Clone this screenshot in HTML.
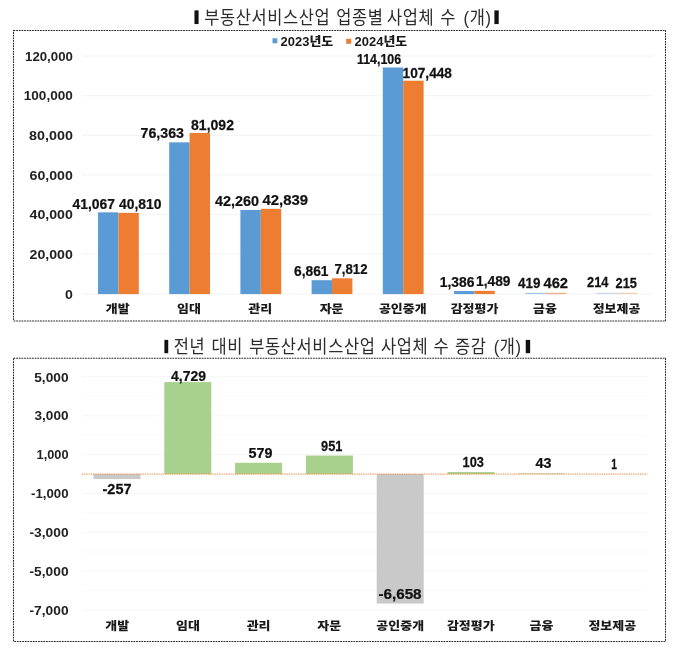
<!DOCTYPE html>
<html lang="ko">
<head>
<meta charset="utf-8">
<title>부동산서비스산업 업종별 사업체 수</title>
<style>
html,body{margin:0;padding:0;background:#fff;}
body{width:679px;height:658px;overflow:hidden;font-family:'Liberation Sans','Noto Sans CJK KR',sans-serif;}
svg{display:block;}
text{font-family:'Liberation Sans','Noto Sans CJK KR',sans-serif;fill:#1a1a1a;}
.tt{font-size:16.8px;font-weight:400;fill:#2b2b2b;letter-spacing:0.65px;}
.ax{font-size:13.4px;font-weight:700;fill:#222;}
.ct{font-size:12.6px;font-weight:900;fill:#1a1a1a;}
.dl{font-size:15.5px;font-weight:700;fill:#111;stroke:#111;stroke-width:0.25px;}
.lg{font-size:12.4px;font-weight:900;fill:#1a1a1a;}
.vb{font-family:'DejaVu Sans','Liberation Sans',sans-serif;fill:#111;}
</style>
</head>
<body>
<svg width="679" height="658" viewBox="0 0 679 658">
<rect x="0" y="0" width="679" height="658" fill="#ffffff"/>
<rect x="13.5" y="30.4" width="652.0" height="290.5" fill="none" stroke="#2a2a2a" stroke-width="1.05" stroke-dasharray="1.8 0.85"/>
<rect x="13.5" y="358.2" width="652.0" height="283.2" fill="none" stroke="#2a2a2a" stroke-width="1.05" stroke-dasharray="1.8 0.85"/>
<text class="vb" transform="translate(196.40 20.81) scale(1.820 1)" font-size="13.74" text-anchor="middle">❙</text>
<text class="tt" transform="translate(204.20 24.30) scale(0.9800 1.0500)"><tspan x="0.00">부동산서비스산업</tspan> <tspan x="134.80">업종별</tspan> <tspan x="186.43">사업체</tspan> <tspan x="240.82">수</tspan> <tspan x="264.69">(개)</tspan></text>
<text class="vb" transform="translate(496.50 20.81) scale(1.911 1)" font-size="13.74" text-anchor="middle">❙</text>
<text class="vb" transform="translate(165.85 349.71) scale(1.734 1)" font-size="13.33" text-anchor="middle">❙</text>
<text class="tt" transform="translate(173.80 353.30) scale(0.9800 1.0500)"><tspan x="0.00">전년</tspan> <tspan x="38.57">대비</tspan> <tspan x="77.04">부동산서비스산업</tspan> <tspan x="211.43">사업체</tspan> <tspan x="265.10">수</tspan> <tspan x="286.94">증감</tspan> <tspan x="326.43">(개)</tspan></text>
<text class="vb" transform="translate(527.45 349.71) scale(2.016 1)" font-size="13.33" text-anchor="middle">❙</text>
<line x1="82.00" y1="293.80" x2="653.00" y2="293.80" stroke="#f5f5f5" stroke-width="1.2"/>
<text class="ax" transform="translate(68.95 298.50) scale(1.0595 1.0000)" text-anchor="middle">0</text>
<line x1="82.00" y1="254.18" x2="653.00" y2="254.18" stroke="#f5f5f5" stroke-width="1.2"/>
<text class="ax" transform="translate(51.20 258.88) scale(1.0590 1.0000)" text-anchor="middle">20,000</text>
<line x1="82.00" y1="214.56" x2="653.00" y2="214.56" stroke="#f5f5f5" stroke-width="1.2"/>
<text class="ax" transform="translate(51.20 219.26) scale(1.0590 1.0000)" text-anchor="middle">40,000</text>
<line x1="82.00" y1="174.94" x2="653.00" y2="174.94" stroke="#f5f5f5" stroke-width="1.2"/>
<text class="ax" transform="translate(51.20 179.64) scale(1.0590 1.0000)" text-anchor="middle">60,000</text>
<line x1="82.00" y1="135.32" x2="653.00" y2="135.32" stroke="#f5f5f5" stroke-width="1.2"/>
<text class="ax" transform="translate(50.95 140.02) scale(1.0714 1.0000)" text-anchor="middle">80,000</text>
<line x1="82.00" y1="95.70" x2="653.00" y2="95.70" stroke="#f5f5f5" stroke-width="1.2"/>
<text class="ax" transform="translate(48.30 100.40) scale(1.0150 1.0000)" text-anchor="middle">100,000</text>
<line x1="82.00" y1="56.08" x2="653.00" y2="56.08" stroke="#f5f5f5" stroke-width="1.2"/>
<text class="ax" transform="translate(48.95 60.78) scale(0.9876 1.0000)" text-anchor="middle">120,000</text>
<rect x="98.00" y="212.34" width="20.40" height="81.76" fill="#5b9bd5"/>
<rect x="118.40" y="212.85" width="20.40" height="81.25" fill="#ed7d31"/>
<rect x="169.20" y="142.33" width="20.40" height="151.77" fill="#5b9bd5"/>
<rect x="189.60" y="132.95" width="20.40" height="161.15" fill="#ed7d31"/>
<rect x="240.40" y="209.98" width="20.40" height="84.12" fill="#5b9bd5"/>
<rect x="260.80" y="208.83" width="20.40" height="85.27" fill="#ed7d31"/>
<rect x="311.60" y="280.19" width="20.40" height="13.91" fill="#5b9bd5"/>
<rect x="332.00" y="278.30" width="20.40" height="15.80" fill="#ed7d31"/>
<rect x="382.80" y="67.47" width="20.40" height="226.63" fill="#5b9bd5"/>
<rect x="403.20" y="80.68" width="20.40" height="213.42" fill="#ed7d31"/>
<rect x="454.00" y="291.05" width="20.40" height="3.05" fill="#5b9bd5"/>
<rect x="474.40" y="290.85" width="20.40" height="3.25" fill="#ed7d31"/>
<rect x="525.20" y="292.80" width="20.40" height="1.30" fill="#5b9bd5" opacity="0.55"/>
<rect x="545.60" y="292.80" width="20.40" height="1.30" fill="#ed7d31" opacity="0.61"/>
<rect x="596.40" y="292.80" width="20.40" height="1.30" fill="#5b9bd5" opacity="0.35"/>
<rect x="616.80" y="292.80" width="20.40" height="1.30" fill="#ed7d31" opacity="0.35"/>
<text class="ct" transform="translate(117.80 313.10) scale(1.0300 0.9200)" text-anchor="middle">개발</text>
<text class="ct" transform="translate(189.00 313.10) scale(1.0300 0.9200)" text-anchor="middle">임대</text>
<text class="ct" transform="translate(260.20 313.10) scale(1.0300 0.9200)" text-anchor="middle">관리</text>
<text class="ct" transform="translate(331.60 313.10) scale(1.0300 0.9200)" text-anchor="middle">자문</text>
<text class="ct" transform="translate(402.80 313.10) scale(1.0300 0.9200)" text-anchor="middle">공인중개</text>
<text class="ct" transform="translate(474.50 313.10) scale(1.0300 0.9200)" text-anchor="middle">감정평가</text>
<text class="ct" transform="translate(545.00 313.10) scale(1.0300 0.9200)" text-anchor="middle">금융</text>
<text class="ct" transform="translate(616.50 313.10) scale(1.0300 0.9200)" text-anchor="middle">정보제공</text>
<text class="dl" transform="translate(93.75 208.80) scale(0.8961 1.0000)" text-anchor="middle">41,067</text>
<text class="dl" transform="translate(140.25 208.80) scale(0.8961 1.0000)" text-anchor="middle">40,810</text>
<text class="dl" transform="translate(162.25 137.50) scale(0.9176 1.0000)" text-anchor="middle">76,363</text>
<text class="dl" transform="translate(212.50 130.00) scale(0.9069 1.0000)" text-anchor="middle">81,092</text>
<text class="dl" transform="translate(237.00 206.30) scale(0.9284 1.0000)" text-anchor="middle">42,260</text>
<text class="dl" transform="translate(285.25 204.50) scale(0.9608 1.0000)" text-anchor="middle">42,839</text>
<text class="dl" transform="translate(311.25 275.50) scale(0.8887 1.0000)" text-anchor="middle">6,861</text>
<text class="dl" transform="translate(351.00 273.50) scale(0.8489 1.0000)" text-anchor="middle">7,812</text>
<text class="dl" transform="translate(379.00 64.00) scale(0.8010 1.0000)" text-anchor="middle">114,106</text>
<text class="dl" transform="translate(427.25 78.00) scale(0.8829 1.0000)" text-anchor="middle">107,448</text>
<text class="dl" transform="translate(457.10 287.30) scale(0.8966 1.0000)" text-anchor="middle">1,386</text>
<text class="dl" transform="translate(493.25 285.50) scale(0.8887 1.0000)" text-anchor="middle">1,489</text>
<text class="dl" transform="translate(529.25 287.50) scale(0.8680 1.0000)" text-anchor="middle">419</text>
<text class="dl" transform="translate(555.75 287.50) scale(0.9488 1.0000)" text-anchor="middle">462</text>
<text class="dl" transform="translate(597.75 286.50) scale(0.8276 1.0000)" text-anchor="middle">214</text>
<text class="dl" transform="translate(626.25 288.00) scale(0.8276 1.0000)" text-anchor="middle">215</text>
<rect x="272.50" y="38.30" width="4.80" height="5.00" fill="#5b9bd5"/>
<text class="lg" transform="translate(280.60 45.80) scale(1.0450 1.0000)" text-anchor="start">2023년도</text>
<rect x="346.20" y="38.80" width="5.00" height="5.00" fill="#ed7d31"/>
<text class="lg" transform="translate(354.60 45.80) scale(1.0450 1.0000)" text-anchor="start">2024년도</text>
<line x1="82.00" y1="376.80" x2="647.50" y2="376.80" stroke="#f5f5f5" stroke-width="1"/>
<text class="ax" transform="translate(51.40 381.50) scale(1.0249 1.0000)" text-anchor="middle">5,000</text>
<line x1="82.00" y1="415.70" x2="647.50" y2="415.70" stroke="#f5f5f5" stroke-width="1"/>
<text class="ax" transform="translate(51.55 420.40) scale(1.0157 1.0000)" text-anchor="middle">3,000</text>
<line x1="82.00" y1="454.60" x2="647.50" y2="454.60" stroke="#f5f5f5" stroke-width="1"/>
<text class="ax" transform="translate(52.55 459.30) scale(0.9543 1.0000)" text-anchor="middle">1,000</text>
<line x1="82.00" y1="493.50" x2="647.50" y2="493.50" stroke="#f5f5f5" stroke-width="1"/>
<text class="ax" transform="translate(49.80 498.20) scale(0.9878 1.0000)" text-anchor="middle">-1,000</text>
<line x1="82.00" y1="532.40" x2="647.50" y2="532.40" stroke="#f5f5f5" stroke-width="1"/>
<text class="ax" transform="translate(49.05 537.10) scale(1.0283 1.0000)" text-anchor="middle">-3,000</text>
<line x1="82.00" y1="571.30" x2="647.50" y2="571.30" stroke="#f5f5f5" stroke-width="1"/>
<text class="ax" transform="translate(49.05 576.00) scale(1.0283 1.0000)" text-anchor="middle">-5,000</text>
<line x1="82.00" y1="610.20" x2="647.50" y2="610.20" stroke="#f5f5f5" stroke-width="1"/>
<text class="ax" transform="translate(49.05 614.90) scale(1.0283 1.0000)" text-anchor="middle">-7,000</text>
<line x1="82.00" y1="396.25" x2="647.50" y2="396.25" stroke="#fafafa" stroke-width="1"/>
<line x1="82.00" y1="435.15" x2="647.50" y2="435.15" stroke="#fafafa" stroke-width="1"/>
<line x1="82.00" y1="512.95" x2="647.50" y2="512.95" stroke="#fafafa" stroke-width="1"/>
<line x1="82.00" y1="551.85" x2="647.50" y2="551.85" stroke="#fafafa" stroke-width="1"/>
<line x1="82.00" y1="590.75" x2="647.50" y2="590.75" stroke="#fafafa" stroke-width="1"/>
<rect x="93.50" y="474.05" width="47.00" height="5.00" fill="#c9c9c9"/>
<rect x="164.30" y="382.07" width="47.00" height="91.98" fill="#a9d18e"/>
<rect x="235.10" y="462.79" width="47.00" height="11.26" fill="#a9d18e"/>
<rect x="305.90" y="455.55" width="47.00" height="18.50" fill="#a9d18e"/>
<rect x="376.70" y="474.05" width="47.00" height="129.50" fill="#c9c9c9"/>
<rect x="447.50" y="472.05" width="47.00" height="2.00" fill="#a9d18e"/>
<rect x="518.30" y="473.05" width="47.00" height="1.00" fill="#a9d18e" opacity="0.56"/>
<line x1="82.00" y1="474.05" x2="647.50" y2="474.05" stroke="#ee8a45" stroke-width="1.2" stroke-dasharray="0.9 0.9"/>
<text class="ct" transform="translate(117.30 629.60) scale(1.0300 0.9200)" text-anchor="middle">개발</text>
<text class="ct" transform="translate(188.00 629.60) scale(1.0300 0.9200)" text-anchor="middle">임대</text>
<text class="ct" transform="translate(258.60 629.60) scale(1.0300 0.9200)" text-anchor="middle">관리</text>
<text class="ct" transform="translate(329.30 629.60) scale(1.0300 0.9200)" text-anchor="middle">자문</text>
<text class="ct" transform="translate(400.20 629.60) scale(1.0300 0.9200)" text-anchor="middle">공인중개</text>
<text class="ct" transform="translate(470.80 629.60) scale(1.0300 0.9200)" text-anchor="middle">감정평가</text>
<text class="ct" transform="translate(541.50 629.60) scale(1.0300 0.9200)" text-anchor="middle">금융</text>
<text class="ct" transform="translate(612.30 629.60) scale(1.0300 0.9200)" text-anchor="middle">정보제공</text>
<text class="dl" transform="translate(117.00 493.50) scale(0.9355 1.0000)" text-anchor="middle">-257</text>
<text class="dl" transform="translate(188.50 381.00) scale(0.9020 1.0000)" text-anchor="middle">4,729</text>
<text class="dl" transform="translate(260.50 457.50) scale(0.9286 1.0000)" text-anchor="middle">579</text>
<text class="dl" transform="translate(331.75 450.50) scale(0.8276 1.0000)" text-anchor="middle">951</text>
<text class="dl" transform="translate(400.00 599.00) scale(0.9800 1.0000)" text-anchor="middle">-6,658</text>
<text class="dl" transform="translate(473.25 467.00) scale(0.8276 1.0000)" text-anchor="middle">103</text>
<text class="dl" transform="translate(543.50 468.00) scale(0.9287 1.0000)" text-anchor="middle">43</text>
<text class="dl" transform="translate(614.00 468.50) scale(0.6637 1.0000)" text-anchor="middle">1</text>
</svg>
</body>
</html>
